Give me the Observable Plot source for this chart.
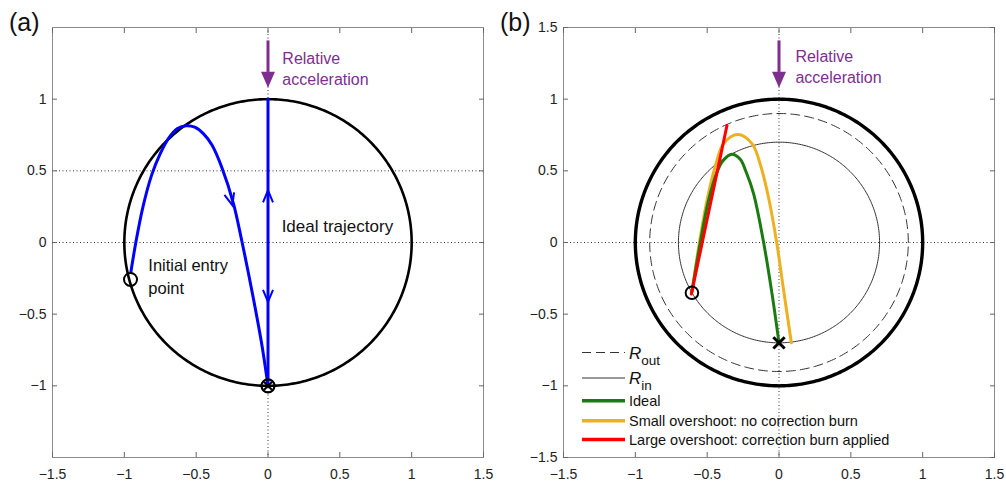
<!DOCTYPE html>
<html><head><meta charset="utf-8">
<script src="https://cdn.jsdelivr.net/npm/d3@7"></script>
<script src="https://cdn.jsdelivr.net/npm/@observablehq/plot@0.6"></script>
<style>
html,body{margin:0;padding:0;background:#fff;}
#wrap{position:relative;width:1006px;height:485px;font-family:"Liberation Sans",Arial,sans-serif;overflow:hidden;}
#wrap > svg{position:absolute;top:0;}
</style></head><body><div id="wrap"></div>
<script>
// ---------- data ----------
const xTicks = [-1.5, -1, -0.5, 0, 0.5, 1, 1.5];
const yTicksA = [-1, -0.5, 0, 0.5, 1];
const yTicksB = [-1.5, -1, -0.5, 0, 0.5, 1, 1.5];
const gridXA = [0], gridYA = [0, 0.5];
const gridXB = [0], gridYB = [0];

const boundaryRadius = [1];
const ringNames = ["R_out", "R_in"];
const ringRadii = [0.9, 0.7];

// panel (a): trajectory
const trajAX = [-0.955, -0.92, -0.87, -0.81, -0.75, -0.69, -0.63, -0.57, -0.51, -0.45, -0.39, -0.32, -0.24, -0.18, -0.10, -0.04, 0];
const trajAY = [-0.21, 0.0, 0.25, 0.47, 0.62, 0.73, 0.795, 0.815, 0.805, 0.76, 0.68, 0.52, 0.27, 0.0, -0.40, -0.73, -1.0];
const idealAX = [0, 0];
const idealAY = [1, -1];
const chevAX = [-0.248, 0, 0];
const chevAY = [0.26, 0.364, -0.414];
const chevARot = [165, 0, 180];
const entryAX = [-0.957], entryAY = [-0.258];
const targetAX = [0], targetAY = [-1];

// relative acceleration arrow (both panels)
const accX = [0], accTop = [1.41], accBase = [1.19], accTip = [1.08];

// panel (b): trajectories
const idealBX = [-0.606, -0.548, -0.49, -0.432, -0.39, -0.328, -0.27, -0.228, -0.177, -0.107, -0.049, 0];
const idealBY = [-0.344, 0.0, 0.295, 0.49, 0.57, 0.615, 0.58, 0.49, 0.341, 0.0, -0.355, -0.70];
const smallBX = [-0.606, -0.554, -0.50, -0.445, -0.386, -0.286, -0.188, -0.125, -0.07, -0.016, 0.032, 0.086];
const smallBY = [-0.344, 0.0, 0.30, 0.527, 0.69, 0.753, 0.69, 0.527, 0.30, 0.0, -0.332, -0.70];
const largeBX = [-0.61, -0.362];
const largeBY = [-0.36, 0.817];
const entryBX = [-0.606], entryBY = [-0.351];
const targetBX = [0], targetBY = [-0.70];

const legendLabels = ["out", "in", "Ideal", "Small overshoot: no correction burn", "Large overshoot: correction burn applied"];

// ---------- helpers ----------
const angles = d3.range(0, 361, 1);
const ring = r => angles.map(a => ({x: r * Math.cos(a * Math.PI / 180), y: r * Math.sin(a * Math.PI / 180)}));
const pts = (xs, ys) => xs.map((x, i) => ({x, y: ys[i]}));
const fmt = d3.format("");
const FONT = "'Liberation Sans', Arial, sans-serif";
const PURPLE = "#7e2f8e", BLUE = "#0000ff", GREEN = "#1b7a12", ORANGE = "#edb120", RED = "#ff0000";
const FRAME = "#8a8a8a";

const headDown = {draw(ctx) { ctx.moveTo(0, 0); ctx.lineTo(-7, -16); ctx.lineTo(7, -16); ctx.closePath(); }};
const chevron = {draw(ctx) { ctx.moveTo(-5, 12); ctx.lineTo(0, 0); ctx.lineTo(5, 12); }};

function axesMarks(yTicks) {
  return [
    Plot.frame({stroke: FRAME}),
    Plot.axisX(xTicks, {anchor: "bottom", tickSize: 5, dy: -5, fill: "none", stroke: "#666", label: null}),
    Plot.axisX(xTicks, {anchor: "top", tickSize: 5, dy: 5, fill: "none", stroke: "#666", label: null}),
    Plot.axisY(yTicks, {anchor: "left", tickSize: 5, dx: 5, fill: "none", stroke: "#666", label: null}),
    Plot.axisY(yTicks, {anchor: "right", tickSize: 5, dx: -5, fill: "none", stroke: "#666", label: null}),
    Plot.axisX(xTicks, {anchor: "bottom", tickSize: 0, tickPadding: 12, tickFormat: fmt, label: null, fontSize: 14, fill: "#222"}),
    Plot.axisY(yTicks, {anchor: "left", tickSize: 0, tickPadding: 6, tickFormat: fmt, label: null, fontSize: 14, fill: "#222"})
  ];
}

function accelMarks(textX, textY) {
  return [
    Plot.link(accX, {x1: d => d, x2: d => d, y1: accTop, y2: accBase, stroke: PURPLE, strokeWidth: 3}),
    Plot.dot(accX, {x: d => d, y: accTip, symbol: headDown, fill: PURPLE, stroke: "none"}),
    Plot.text(["Relative\nacceleration"], {x: textX, y: textY, textAnchor: "start", lineAnchor: "middle", fontSize: 16, lineHeight: 1.31, fill: PURPLE})
  ];
}

const common = {
  width: 503, height: 485, marginTop: 27, marginBottom: 28,
  x: {domain: [-1.5, 1.5], axis: null},
  y: {domain: [-1.5, 1.5], axis: null},
  style: {fontFamily: FONT, fontSize: "14px", background: "transparent", overflow: "visible"}
};

// ---------- panel (a) ----------
const plotA = Plot.plot({
  ...common, marginLeft: 52, marginRight: 20,
  marks: [
    Plot.ruleX(gridXA, {x: d => d, stroke: "#333", strokeWidth: 1, strokeDasharray: "1,2.5"}),
    Plot.ruleY(gridYA, {y: d => d, stroke: "#333", strokeWidth: 1, strokeDasharray: "1,2.5"}),
    ...boundaryRadius.map(r => Plot.line(ring(r), {x: "x", y: "y", stroke: "black", strokeWidth: 2.6})),
    Plot.line(pts(trajAX, trajAY), {x: "x", y: "y", stroke: BLUE, strokeWidth: 3, curve: "catmull-rom"}),
    Plot.line(pts(idealAX, idealAY), {x: "x", y: "y", stroke: BLUE, strokeWidth: 3}),
    Plot.dot(pts(chevAX, chevAY).map((d, i) => ({...d, r: chevARot[i]})), {x: "x", y: "y", rotate: "r", symbol: chevron, fill: "none", stroke: BLUE, strokeWidth: 2}),
    Plot.dot(pts(entryAX, entryAY), {x: "x", y: "y", r: 6.5, fill: "none", stroke: "black", strokeWidth: 2}),
    Plot.dot(pts(targetAX, targetAY), {x: "x", y: "y", r: 6.5, fill: "none", stroke: "black", strokeWidth: 2.2}),
    Plot.dot(pts(targetAX, targetAY), {x: "x", y: "y", r: 3.6, symbol: "times", stroke: "black", strokeWidth: 2}),
    ...accelMarks([0.10], [1.218]),
    Plot.text(["Ideal trajectory"], {x: [0.095], y: [0.109], textAnchor: "start", lineAnchor: "middle", fontSize: 17, fill: "#111"}),
    Plot.text(["Initial entry\npoint"], {x: [-0.833], y: [-0.228], textAnchor: "start", lineAnchor: "middle", fontSize: 16.5, lineHeight: 1.41, fill: "#111"}),
    ...axesMarks(yTicksA)
  ]
});
plotA.style.left = "0px";

// ---------- panel (b) ----------
const plotB = Plot.plot({
  ...common, marginLeft: 60, marginRight: 12,
  marks: [
    Plot.ruleX(gridXB, {x: d => d, stroke: "#333", strokeWidth: 1, strokeDasharray: "1,2.5"}),
    Plot.ruleY(gridYB, {y: d => d, stroke: "#333", strokeWidth: 1, strokeDasharray: "1,2.5"}),
    Plot.line(ring(ringRadii[0]), {x: "x", y: "y", stroke: "#333", strokeWidth: 1, strokeDasharray: "9,5"}),
    Plot.line(ring(ringRadii[1]), {x: "x", y: "y", stroke: "#333", strokeWidth: 1}),
    ...boundaryRadius.map(r => Plot.line(ring(r), {x: "x", y: "y", stroke: "black", strokeWidth: 3.4})),
    Plot.line(pts(smallBX, smallBY), {x: "x", y: "y", stroke: ORANGE, strokeWidth: 3, curve: "catmull-rom"}),
    Plot.line(pts(idealBX, idealBY), {x: "x", y: "y", stroke: GREEN, strokeWidth: 3, curve: "catmull-rom"}),
    Plot.line(pts(largeBX, largeBY), {x: "x", y: "y", stroke: RED, strokeWidth: 3}),
    Plot.dot(pts(entryBX, entryBY), {x: "x", y: "y", r: 6.3, fill: "none", stroke: "black", strokeWidth: 2}),
    Plot.dot(pts(targetBX, targetBY), {x: "x", y: "y", r: 5.2, symbol: "times", stroke: "black", strokeWidth: 3}),
    ...accelMarks([0.114], [1.232]),
    ...axesMarks(yTicksB)
  ]
});
plotB.style.left = "503px";

const wrap = document.getElementById("wrap");
wrap.appendChild(plotA);
wrap.appendChild(plotB);

// ---------- overlay: panel letters and legend ----------
const ov = d3.select(wrap).append("svg")
  .attr("width", 1006).attr("height", 485)
  .style("left", "0px").style("pointer-events", "none")
  .attr("font-family", FONT);
ov.append("text").attr("x", 9).attr("y", 31).attr("font-size", 25).attr("fill", "#111").text("(a)");
ov.append("text").attr("x", 500).attr("y", 31).attr("font-size", 25).attr("fill", "#111").text("(b)");

const lg = ov.append("g");
const lx1 = 582, lx2 = 625, tx = 629;
const rowsY = [352.5, 378, 400.7, 420.7, 439.5];
const rowStyles = [
  {stroke: "#333", w: 1, dash: "9,5"},
  {stroke: "#333", w: 1, dash: null},
  {stroke: GREEN, w: 3.5, dash: null},
  {stroke: ORANGE, w: 3.5, dash: null},
  {stroke: RED, w: 3.5, dash: null}
];
rowStyles.forEach((s, i) => {
  lg.append("line").attr("x1", lx1).attr("x2", lx2).attr("y1", rowsY[i]).attr("y2", rowsY[i])
    .attr("stroke", s.stroke).attr("stroke-width", s.w).attr("stroke-dasharray", s.dash);
  if (i < 2) {
    const t = lg.append("text").attr("x", tx).attr("y", rowsY[i] + 6).attr("font-size", 17).attr("fill", "#111");
    t.append("tspan").attr("font-style", "italic").text("R");
    t.append("tspan").attr("font-size", 13.5).attr("dy", 6).text(legendLabels[i]);
  } else {
    lg.append("text").attr("x", tx).attr("y", rowsY[i]).attr("dy", "0.35em").attr("font-size", 14.5).attr("fill", "#111").text(legendLabels[i]);
  }
});
</script></body></html>
